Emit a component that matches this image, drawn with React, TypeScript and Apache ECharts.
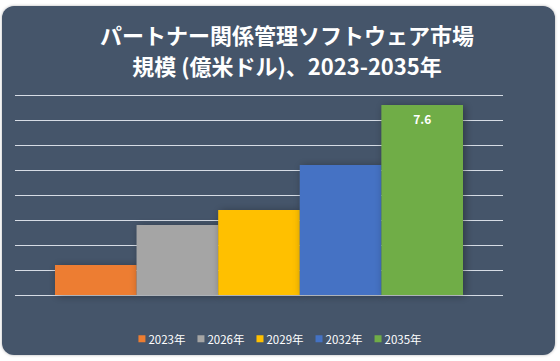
import React, { useEffect, useRef } from "react";
import * as echarts from "echarts";

const categories = [""];
const seriesNames = ["2023年", "2026年", "2029年", "2032年", "2035年"];
const seriesValues = [1.2, 2.8, 3.4, 5.2, 7.6];
const seriesColors = ["#ED7D31", "#A5A5A5", "#FFC000", "#4472C4", "#70AD47"];
const titleLines = ["パートナー関係管理ソフトウェア市場", "規模 (億米ドル)、2023-2035年"];

export default function App() {
  const ref = useRef<HTMLDivElement>(null);
  useEffect(() => {
    const chart = echarts.init(ref.current!, null, { renderer: "svg" });
    const font = "'Noto Sans CJK JP', 'Noto Sans', sans-serif";
    chart.setOption({
      animation: false,
      backgroundColor: "#ffffff",
      textStyle: { fontFamily: font },
      graphic: [
        {
          type: "rect",
          z: -10,
          silent: true,
          shape: { x: 2, y: 6, width: 553, height: 349, r: 12 },
          style: { fill: "#44546A", shadowBlur: 3, shadowColor: "rgba(0,0,0,0.3)" },
        },
        {
          type: "text",
          x: 287,
          y: 34,
          style: {
            text: titleLines[0],
            fill: "#ffffff",
            font: `bold 22px ${font}`,
            align: "center",
            verticalAlign: "middle",
          },
        },
        {
          type: "text",
          x: 287,
          y: 65,
          style: {
            text: titleLines[1],
            fill: "#ffffff",
            font: `bold 22px ${font}`,
            align: "center",
            verticalAlign: "middle",
          },
        },
      ],
      legend: {
        data: seriesNames,
        left: "center",
        top: 328,
        itemWidth: 7,
        itemHeight: 7,
        itemGap: 12,
        icon: "rect",
        textStyle: { color: "#ffffff", fontSize: 11.5, fontFamily: font, padding: [0, 0, 0, -2] },
      },
      grid: { left: 15, right: 57, top: 95, bottom: 66 },
      xAxis: {
        type: "category",
        data: categories,
        axisLine: { show: false },
        axisTick: { show: false },
        axisLabel: { show: false },
      },
      yAxis: {
        type: "value",
        min: 0,
        max: 8,
        interval: 1,
        axisLabel: { show: false },
        axisLine: { show: false },
        axisTick: { show: false },
        splitLine: { lineStyle: { color: "#D6DCE5", width: 1 } },
      },
      series: seriesNames.map((name, i) => ({
        name,
        type: "bar",
        data: [seriesValues[i]],
        barWidth: 81.6,
        barGap: "0%",
        itemStyle: {
          color: seriesColors[i],
          shadowBlur: 8,
          shadowColor: "rgba(0,0,0,0.35)",
          shadowOffsetX: 2,
          shadowOffsetY: 1,
        },
        label: {
          show: i === seriesNames.length - 1,
          position: "insideTop",
          distance: 7,
          color: "#ffffff",
          fontWeight: "bold",
          fontSize: 12,
          fontFamily: font,
        },
      })),
    });
    return () => chart.dispose();
  }, []);
  return (
    <div
      ref={ref}
      style={{ position: "fixed", left: 0, top: 0, width: 560, height: 361 }}
    />
  );
}
